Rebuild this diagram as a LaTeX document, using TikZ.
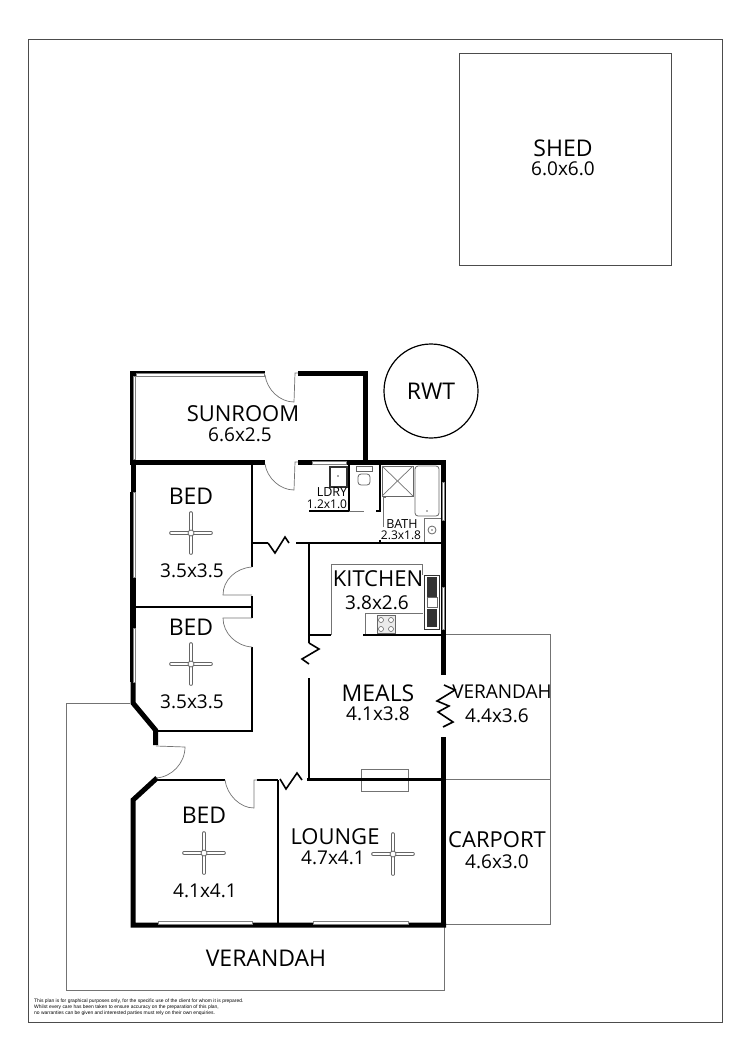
\documentclass[tikz,border=0pt]{standalone}
\usepackage{fontspec}
\setmainfont{Open Sans}
\newfontfamily\notefont{Liberation Sans}
\tikzset{
  frameline/.style={draw=black!70,line width=0.8pt},
  thinline/.style={draw=black!55,line width=0.8pt},
  wallthick/.style={draw=black,line width=5pt},
  wall/.style={draw=black,line width=2.4pt},
  breakline/.style={draw=black,line width=1.6pt},
  doorline/.style={draw=black!55,line width=0.7pt},
  windowbar/.style={draw=black!50,fill=white,line width=0.5pt},
  fixture/.style={draw=black!60,line width=0.8pt},
  fanblade/.style={draw=black!60,line width=0.8pt,double=white,double distance=2pt,line cap=round},
  roomname/.style={font=\fontsize{23}{26}\selectfont,inner sep=0pt},
  widename/.style={font=\fontsize{22}{25}\selectfont,inner sep=0pt},
  roomsize/.style={font=\fontsize{19}{22}\selectfont,inner sep=0pt},
  smallname/.style={font=\fontsize{12.5}{14}\selectfont,inner sep=0pt},
  smallsize/.style={font=\fontsize{12}{13}\selectfont,inner sep=0pt},
  notetext/.style={font=\notefont\fontsize{4.95}{6}\selectfont,inner sep=0pt,anchor=west}
}
\begin{document}
\begin{tikzpicture}[x=1pt,y=-1pt]
    \useasboundingbox (0,0) rectangle (750,1060);

    % Site
    \draw[frameline] (28,39) rectangle (722,1022);
    \draw[frameline] (459,53) rectangle (671,265);
    \draw[draw=black,line width=1.2pt] (431,391) circle[radius=47pt];

    % Verandahs and carport
    \draw[thinline] (130,703) -- (66,703) -- (66,990) -- (444,990) -- (444,925);
    \draw[thinline] (446,634) -- (550,634) -- (550,924) -- (446,924);
    \draw[thinline] (446,779) -- (550,779);
    \draw[thinline] (361,769) rectangle (408,791);

    % Outer walls
    \draw[wallthick] (130,373.5) -- (265,373.5);
    \draw[wallthick] (298,373.5) -- (365.5,373.5) -- (365.5,462);
    \draw[wall] (131.5,372) -- (131.5,462);
    \draw[wallthick] (133,460) -- (133,492);
    \draw[wall] (131.5,492) -- (131.5,682);
    \draw[wallthick] (133,577) -- (133,628);
    \draw[wallthick] (133,682) -- (133,703) -- (155.5,730) -- (155.5,745);
    \draw[wallthick] (157,778) -- (133,800) -- (133,925) -- (446,925);
    \draw[wallthick] (443.5,460) -- (443.5,675);
    \draw[wallthick] (443.5,737) -- (443.5,927);
    \draw[wallthick] (130,462) -- (265,462);
    \draw[wallthick] (298,462) -- (446,462);

    % Inner walls
    \draw[wall] (252,464) -- (252,567);
    \draw[wall] (252,596) -- (252,618);
    \draw[wall] (135,607) -- (252,607);
    \draw[wall] (252,647) -- (252,731) -- (156,731);
    \draw[wall] (157,780) -- (225,780);
    \draw[wall] (257,780) -- (278,780);
    \draw[wall] (278,780) -- (278,923);
    \draw[wall] (307,779.5) -- (441,779.5);
    \draw[wall] (309,678) -- (309,780);
    \draw[wall] (309,543) -- (309,643);
    \draw[wall] (309,635) -- (331,635);
    \draw[wall] (363,635) -- (441,635);
    \draw[wall] (252,543) -- (268,543);
    \draw[wall] (296,543) -- (441,543);
    \draw[wall] (309,511) -- (349,511) -- (349,464);
    \draw[wall] (380,464) -- (380,511);
    \draw[wall] (376,511) -- (381,511);
    \draw[wall] (380,540) -- (380,543);

    % Breaks
    \draw[breakline] (268,543) -- (275,553) -- (285,537) -- (289,543);
    \draw[breakline] (309,643) -- (319,649) -- (302,659) -- (309,664);
    \draw[breakline] (444,685) -- (455,690) -- (437,701) -- (449,706) -- (438,712) -- (453,722) -- (443,727);
    \draw[breakline] (280,779) -- (286,789) -- (297,773) -- (302,780);

    % Windows
    \draw[windowbar] (136,376) rectangle (264,373.5);
    \draw[windowbar] (133,376) rectangle (135.5,459);
    \draw[windowbar] (133,492) rectangle (135.5,577);
    \draw[windowbar] (133,628) rectangle (135.5,682);
    \draw[windowbar] (312,461) rectangle (346,464);
    \draw[windowbar] (442,482) rectangle (444.5,520);
    \draw[windowbar] (442,587) rectangle (444.5,629);
    \draw[windowbar] (158,921.5) rectangle (252,924);
    \draw[windowbar] (313,921.5) rectangle (408,924);

    % Doors
    \draw[doorline] (265,375) .. controls (267,390) and (280,402) .. (294,402) -- (295,373) -- (298,373);
    \draw[doorline] (265,464) .. controls (267,478) and (280,490) .. (294,490) -- (295,462) -- (298,462);
    \draw[doorline] (252,567) .. controls (236,568) and (223,580) .. (223,595) -- (252,595);
    \draw[doorline] (252,618) -- (223,618) .. controls (223,633) and (236,646) .. (252,647);
    \draw[doorline] (156,746) -- (185,747) .. controls (185,763) and (172,777) .. (156,778);
    \draw[doorline] (225,780) .. controls (227,795) and (240,808) .. (254,808) -- (254,780) -- (257,780);

    % Laundry and toilet
    \draw[draw=black!80,line width=1.2pt] (330,467) rectangle (347,487);
    \fill[black!70] (338,476) circle[radius=0.8pt];
    \draw[doorline] (349,511) -- (364,511);
    \draw[fixture] (356,466) rectangle (372,471);
    \draw[fixture,rounded corners=3pt] (358,474) rectangle (370,485);

    % Bathroom
    \draw[fixture] (382,466) rectangle (413,496);
    \draw[doorline] (382,466) -- (413,496);
    \draw[doorline] (382,496) -- (413,466);
    \draw[doorline] (383,527) -- (383,497) -- (386,497);
    \draw[fixture,rounded corners=3pt] (415,466) rectangle (439,516);
    \fill[black!60] (427,511) circle[radius=0.8pt];
    \draw[thinline] (424,518) -- (424,542);
    \draw[thinline] (424,518) -- (441,518);
    \draw[fixture] (432,530) circle[radius=4pt];
    \fill[black!60] (432,530) circle[radius=0.8pt];

    % Kitchen
    \draw[thinline] (331,635) -- (331,564) -- (422,564) -- (422,575);
    \draw[thinline] (365,634) -- (365,613) -- (423,613);
    \draw[draw=black!80,line width=1pt] (424,575) rectangle (439,629);
    \fill[black!80] (427,577) rectangle (437,597);
    \fill[black!80] (427,609) rectangle (437,627);
    \draw[fixture] (427,597) rectangle (437,607);
    \draw[fixture,fill=black!8] (377,615) rectangle (395,633);
    \foreach \hx/\hy in {381/620,391/620,381/629,391/629} {
      \draw[fixture,line width=0.6pt,fill=white] (\hx,\hy) circle[radius=2.5pt];
    }

    % Fans
    \foreach \fx/\fy in {191/533,191/664,204/853,393/854} {
      \draw[fanblade] (\fx-20,\fy) -- (\fx+20,\fy);
      \draw[fanblade] (\fx,\fy-20) -- (\fx,\fy+20);
      \draw[fixture,fill=white] (\fx,\fy) circle[radius=3pt];
    }

    % Labels
    \node[roomname] (shedname) at (563,148) {SHED};
    \node[roomsize] (shedsize) at (563,169) {6.0x6.0};
    \node[roomname] (rwtname) at (431,391) {RWT};
    \node[widename] (sunname) at (243,414) {SUNROOM};
    \node[roomsize] (sunsize) at (240,435) {6.6x2.5};
    \node[roomname] (bedonename) at (191,496) {BED};
    \node[roomsize] (bedonesize) at (192,571) {3.5x3.5};
    \node[roomname] (bedtwoname) at (191,627) {BED};
    \node[roomsize] (bedtwosize) at (192,702) {3.5x3.5};
    \node[roomname] (bedthreename) at (204,815) {BED};
    \node[roomsize] (bedthreesize) at (205,891) {4.1x4.1};
    \node[widename] (loungename) at (335,837) {LOUNGE};
    \node[roomsize] (loungesize) at (333,858) {4.7x4.1};
    \node[widename] (kitchenname) at (378,579) {KITCHEN};
    \node[roomsize] (kitchensize) at (377,603) {3.8x2.6};
    \node[roomname] (mealsname) at (378,693) {MEALS};
    \node[roomsize] (mealssize) at (378,714) {4.1x3.8};
    \node[roomsize] (verbackname) at (502,692) {VERANDAH};
    \node[roomsize] (verbacksize) at (497,716) {4.4x3.6};
    \node[widename] (carportname) at (497,840) {CARPORT};
    \node[roomsize] (carportsize) at (497,862) {4.6x3.0};
    \node[roomname] (verfrontname) at (266,958) {VERANDAH};
    \node[smallname] (ldryname) at (332,492) {LDRY};
    \node[smallsize] (ldrysize) at (327,504) {1.2x1.0};
    \node[smallname] (bathname) at (402,524) {BATH};
    \node[smallsize] (bathsize) at (401,535) {2.3x1.8};

    % Note
    \node[notetext] (noteone) at (34,1001) {This plan is for graphical purposes only, for the specific use of the client for whom it is prepared.};
    \node[notetext] (notetwo) at (34,1007) {Whilst every care has been taken to ensure accuracy on the preparation of this plan,};
    \node[notetext] (notethree) at (34,1013) {no warranties can be given and interested parties must rely on their own enquiries.};
\end{tikzpicture}
\end{document}
